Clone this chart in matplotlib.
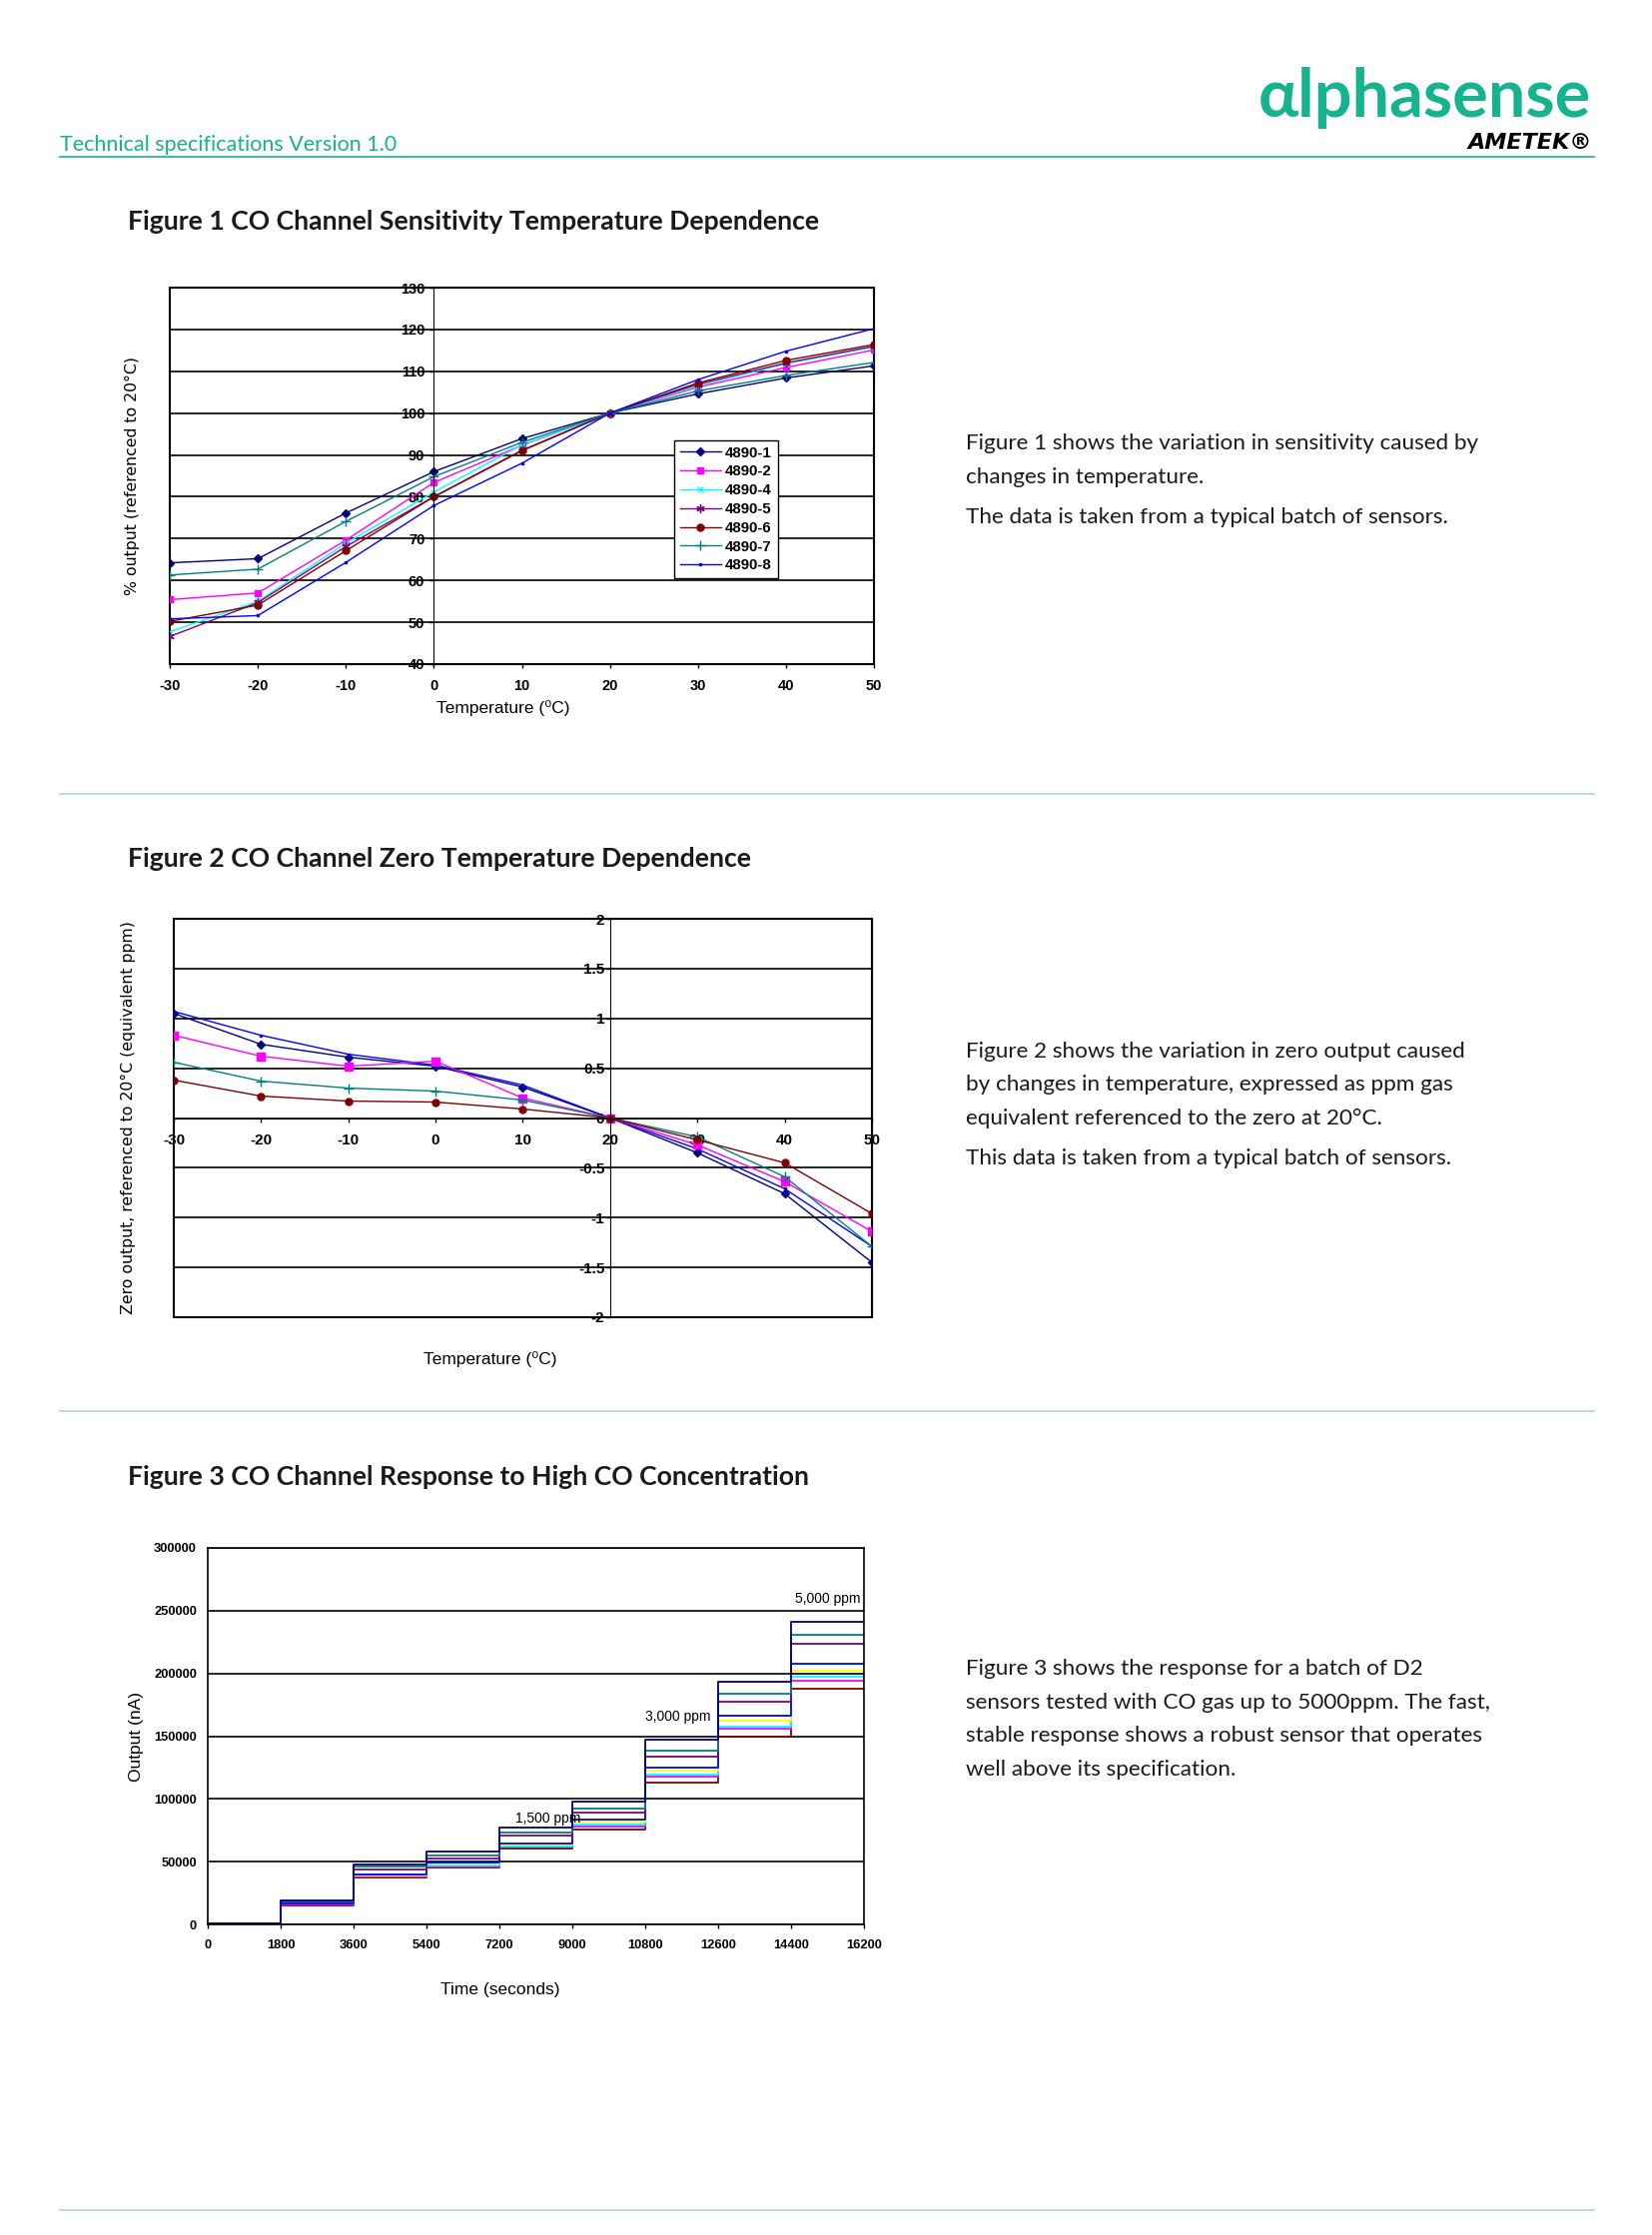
import matplotlib
matplotlib.use("Agg")
import matplotlib.pyplot as plt
from matplotlib.lines import Line2D

plt.rcParams["axes.unicode_minus"] = False

W, H = 1654, 2238
GREEN = "#16b38f"
PALE = "#a8dcd0"
BODY = ["Lato", "DejaVu Sans"]
TICKF = ["Liberation Sans Narrow", "Liberation Sans", "DejaVu Sans"]

# ---- Figure 1 data: sensitivity (% of 20C output)
temps = [-30, -20, -10, 0, 10, 20, 30, 40, 50]
sens_names = ["4890-1", "4890-2", "4890-4", "4890-5", "4890-6", "4890-7", "4890-8"]
sens_1 = [64.2, 65.2, 76.1, 86.0, 93.9, 100, 104.6, 108.4, 111.3]
sens_2 = [55.4, 57.0, 69.6, 83.4, 92.3, 100, 106.2, 110.9, 115.1]
sens_4 = [47.7, 55.0, 68.9, 81.1, 92.4, 100, 106.5, 111.8, 115.8]
sens_5 = [46.6, 54.7, 68.1, 80.0, 91.1, 100, 106.9, 112.0, 116.0]
sens_6 = [50.2, 54.1, 67.1, 80.0, 91.0, 100, 107.2, 112.6, 116.4]
sens_7 = [61.3, 62.7, 74.1, 84.8, 93.0, 100, 105.3, 109.0, 112.1]
sens_8 = [50.8, 51.6, 64.3, 77.9, 88.0, 100, 108.0, 114.8, 120.2]

# ---- Figure 2 data: zero output (ppm equivalent)
zero_names = ["4890-1", "4890-8", "4890-2", "4890-7", "4890-6"]
zero_1 = [1.05, 0.74, 0.61, 0.52, 0.31, 0, -0.35, -0.76, -1.45]
zero_8 = [1.07, 0.83, 0.64, 0.53, 0.33, 0, -0.31, -0.71, -1.29]
zero_2 = [0.83, 0.62, 0.52, 0.57, 0.20, 0, -0.27, -0.64, -1.14]
zero_7 = [0.56, 0.37, 0.30, 0.27, 0.18, 0, -0.19, -0.59, -1.29]
zero_6 = [0.38, 0.22, 0.17, 0.16, 0.09, 0, -0.22, -0.45, -0.96]

# ---- Figure 3 data: step response (nA), one level per 1800 s step
step_t = [0, 1800, 3600, 5400, 7200, 9000, 10800, 12600, 14400, 16200]
resp_navy = [500, 19400, 47800, 57900, 76800, 97500, 147000, 193400, 241300]
resp_teal = [500, 18200, 46000, 55300, 73600, 92500, 138700, 183600, 230400]
resp_purple = [500, 18000, 43800, 52600, 71000, 89000, 133900, 177800, 223700]
resp_blue = [500, 17000, 39900, 49200, 64600, 83200, 124900, 166100, 207300]
resp_yellow = [500, 16500, 39300, 48400, 63800, 81600, 122200, 162100, 202500]
resp_cyan = [500, 16800, 39000, 47300, 62400, 79700, 119600, 157600, 197200]
resp_magenta = [500, 16000, 38500, 46500, 61900, 78100, 117700, 156000, 194000]
resp_red = [300, 15100, 37700, 45200, 60300, 75700, 112900, 149600, 188100]
ann_text = ["1,500 ppm", "3,000 ppm", "5,000 ppm"]
ann_t = [8400, 11600, 15300]
ann_v = [79000, 160000, 254000]


def fx(x):
    return x / W


def fy(y):
    return 1 - y / H


fig = plt.figure(figsize=(W / 100, H / 100), dpi=100)

# header
fig.text(fx(60), fy(145), "Technical specifications Version 1.0", color=GREEN,
         fontsize=15.5, family=BODY, va="center", ha="left")
fig.text(fx(1593), fy(98), "\u03b1lphasense", color=GREEN, fontsize=48,
         family=BODY, fontweight="bold", va="center", ha="right")
fig.text(fx(1594), fy(143), "AMETEK\u00ae", color="black", fontsize=16,
         family=["DejaVu Sans"], fontweight="bold", style="italic", va="center", ha="right")
fig.add_artist(Line2D([fx(60), fx(1596)], [fy(157), fy(157)], color=GREEN, lw=1.2))
for yy in [795, 1413, 2213]:
    fig.add_artist(Line2D([fx(60), fx(1596)], [fy(yy), fy(yy)], color=PALE, lw=1.2))

# titles and right-hand text
titles = ["Figure 1 CO Channel Sensitivity Temperature Dependence",
          "Figure 2 CO Channel Zero Temperature Dependence",
          "Figure 3 CO Channel Response to High CO Concentration"]
for t, yy in zip(titles, [222, 860, 1479]):
    fig.text(fx(128), fy(yy), t, fontsize=19.1, family=BODY, fontweight="bold",
             color="#1a1a1a", va="center", ha="left")

body = [
    (["Figure 1 shows the variation in sensitivity caused by",
      "changes in temperature.",
      "The data is taken from a typical batch of sensors."], [444, 478, 518]),
    (["Figure 2 shows the variation in zero output caused",
      "by changes in temperature, expressed as ppm gas",
      "equivalent referenced to the zero at 20\u00b0C.",
      "This data is taken from a typical batch of sensors."], [1053, 1086, 1120, 1160]),
    (["Figure 3 shows the response for a batch of D2",
      "sensors tested with CO gas up to 5000ppm. The fast,",
      "stable response shows a robust sensor that operates",
      "well above its specification."], [1671, 1705, 1738, 1772]),
]
for lines, ys in body:
    for s, yy in zip(lines, ys):
        fig.text(fx(967), fy(yy), s, fontsize=16.2, family=BODY, color="#1a1a1a",
                 va="center", ha="left")

# ---------------- Figure 1
ax1 = fig.add_axes([170 / W, 1 - 665 / H, 705 / W, 377 / H])
styles1 = [
    ("#000080", "D", 4), ("#ff00ff", "s", 5), ("#00ffff", "x", 5),
    ("#800080", (6, 2, 0), 6), ("#800000", "o", 5), ("#008080", "+", 7),
    ("#0000ff", "s", 1.5),
]
for name, vals, (c, m, ms) in zip(sens_names,
                                  [sens_1, sens_2, sens_4, sens_5, sens_6, sens_7, sens_8],
                                  styles1):
    ax1.plot(temps, vals, color=c, marker=m, ms=ms, lw=1, label=name)
ax1.set_xlim(-30, 50)
ax1.set_ylim(40, 130)
ax1.set_xticks(temps)
ax1.set_yticks(range(40, 131, 10))
ax1.grid(axis="y", color="black", lw=1.2)
ax1.spines["left"].set_position(("data", 0))
ax1.patch.set_edgecolor("black")
ax1.patch.set_linewidth(1.5)
ax1.tick_params(axis="both", labelsize=10.5, length=3, width=1)
ax1.tick_params(axis="x", pad=8)
for lab in ax1.get_xticklabels() + ax1.get_yticklabels():
    lab.set_family(TICKF)
    lab.set_fontweight("bold")
ax1.set_xlabel("Temperature (\u2070C)", fontsize=12.5, family=TICKF)
ax1.set_ylabel("% output (referenced to 20\u00b0C)", fontsize=11.3, family=["DejaVu Sans"])
ax1.xaxis.set_label_coords(0.474, -0.095)
ax1.yaxis.set_label_coords(-0.043, 0.5)
leg = ax1.legend(loc="upper left", bbox_to_anchor=(0.706, 0.615), fancybox=False,
                 edgecolor="black", framealpha=1, borderpad=0.4, labelspacing=0.32,
                 handlelength=2.7, handletextpad=0.3,
                 prop={"family": TICKF, "weight": "bold", "size": 10.8})
leg.get_frame().set_linewidth(1)

# ---------------- Figure 2
ax2 = fig.add_axes([174 / W, 1 - 1319 / H, 699 / W, 399 / H])
styles2 = [("#000080", "D", 4), ("#0000ff", "s", 2), ("#ff00ff", "s", 6),
           ("#008080", "+", 7), ("#800000", "o", 5)]
for name, vals, (c, m, ms) in zip(zero_names, [zero_1, zero_8, zero_2, zero_7, zero_6], styles2):
    ax2.plot(temps, vals, color=c, marker=m, ms=ms, lw=1, label=name)
ax2.set_xlim(-30, 50)
ax2.set_ylim(-2, 2)
ax2.set_xticks(temps)
ax2.set_yticks([-2, -1.5, -1, -0.5, 0, 0.5, 1, 1.5, 2])
ax2.set_yticklabels(["-2", "-1.5", "-1", "-0.5", "0", "0.5", "1", "1.5", "2"])
ax2.grid(axis="y", color="black", lw=1.2)
ax2.spines["left"].set_position(("data", 20))
ax2.spines["bottom"].set_position(("data", 0))
ax2.patch.set_edgecolor("black")
ax2.patch.set_linewidth(1.5)
ax2.tick_params(axis="both", labelsize=11, length=3, width=1)
ax2.tick_params(axis="x", pad=8)
ax2.tick_params(axis="y", pad=1)
for lab in ax2.get_xticklabels() + ax2.get_yticklabels():
    lab.set_family(TICKF)
    lab.set_fontweight("bold")
ax2.set_xlabel("Temperature (\u2070C)", fontsize=12.5, family=TICKF)
ax2.set_ylabel("Zero output, referenced to 20\u00b0C (equivalent ppm)", fontsize=11.3,
               family=["DejaVu Sans"])
ax2.xaxis.set_label_coords(0.453, -0.085)
ax2.yaxis.set_label_coords(-0.054, 0.5)

# ---------------- Figure 3
ax3 = fig.add_axes([208 / W, 1 - 1927 / H, 657 / W, 377 / H])
series3 = [("#000080", resp_navy), ("#008080", resp_teal), ("#800080", resp_purple),
           ("#0000ff", resp_blue), ("#ffff00", resp_yellow), ("#00ffff", resp_cyan),
           ("#ff00ff", resp_magenta), ("#800000", resp_red)]
for c, lv in series3[::-1]:
    ax3.step(step_t, lv + [lv[-1]], where="post", color=c, lw=1.3)
for s, t, v in zip(ann_text, ann_t, ann_v):
    ax3.text(t, v, s, fontsize=10, family=TICKF, ha="center", va="bottom")
ax3.set_xlim(0, 16200)
ax3.set_ylim(0, 300000)
ax3.set_xticks(step_t)
ax3.set_yticks(range(0, 300001, 50000))
ax3.grid(axis="y", color="black", lw=1.2)
for sp in ax3.spines.values():
    sp.set_linewidth(1.2)
ax3.tick_params(axis="both", labelsize=9.3, length=3, width=1)
ax3.tick_params(axis="x", pad=8)
ax3.tick_params(axis="y", length=0, pad=8)
for lab in ax3.get_xticklabels() + ax3.get_yticklabels():
    lab.set_family(TICKF)
    lab.set_fontweight("bold")
ax3.set_xlabel("Time (seconds)", fontsize=12.5, family=TICKF)
ax3.set_ylabel("Output (nA)", fontsize=12.5, family=TICKF)
ax3.xaxis.set_label_coords(0.446, -0.155)
ax3.yaxis.set_label_coords(-0.097, 0.5)

fig.savefig("out.png", dpi=100)
